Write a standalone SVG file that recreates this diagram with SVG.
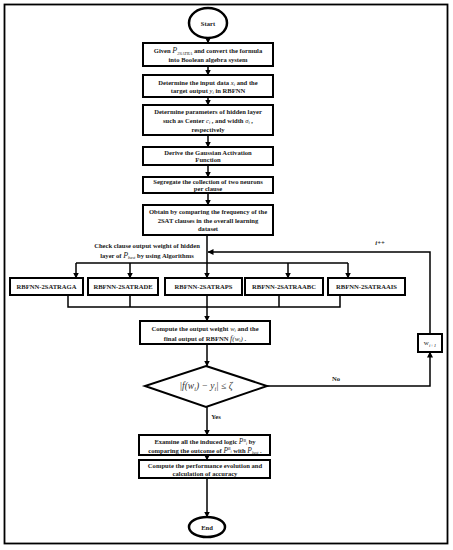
<svg xmlns="http://www.w3.org/2000/svg" width="453" height="550" viewBox="0 0 453 550">
<defs>
<marker id="ah" markerWidth="6" markerHeight="6" refX="5.5" refY="3" orient="auto" markerUnits="userSpaceOnUse">
<path d="M0,0 L6,3 L0,6 z" fill="#000"/>
</marker>
</defs>
<style>
.box{fill:#fff;stroke:#000;stroke-width:2}
.term{fill:#fff;stroke:#000;stroke-width:2.5}
.t{font-family:"Liberation Serif",serif;font-weight:bold;font-size:6.6px;fill:#1a1a1a;text-anchor:middle}
.m{font-family:"Liberation Serif",serif;font-style:italic;font-weight:normal}
.s{font-size:4.5px}
.c{fill:none;stroke:#000;stroke-width:1.5}
.ca{fill:none;stroke:#000;stroke-width:1.5;marker-end:url(#ah)}
</style>
<rect x="4.5" y="4.5" width="443" height="539" fill="#fff" stroke="#000" stroke-width="1.8"/>
<g id="connectors">
<line class="ca" x1="208" y1="38" x2="208" y2="43"/>
<line class="ca" x1="208" y1="66" x2="208" y2="75"/>
<line class="ca" x1="208" y1="97" x2="208" y2="105"/>
<line class="ca" x1="208" y1="135" x2="208" y2="147"/>
<line class="ca" x1="208" y1="165" x2="208" y2="177"/>
<line class="ca" x1="208" y1="193" x2="208" y2="205"/>
<line class="ca" x1="207" y1="235" x2="207" y2="278"/>
<line class="c" x1="76" y1="263" x2="348" y2="263"/>
<line class="ca" x1="76" y1="263" x2="76" y2="278"/>
<line class="ca" x1="130" y1="263" x2="130" y2="278"/>
<line class="ca" x1="288" y1="263" x2="288" y2="278"/>
<line class="ca" x1="348" y1="263" x2="348" y2="278"/>
<path class="c" d="M68,295 V307 H340 V295 M130,295 V307 M279,295 V307"/>
<line class="ca" x1="207" y1="295" x2="207" y2="321"/>
<line class="ca" x1="207" y1="344" x2="207" y2="366"/>
<line class="ca" x1="207" y1="407" x2="207" y2="435"/>
<path class="ca" d="M267,386 H430 V352"/>
<path class="ca" d="M430,334 V252 H208"/>
<line class="ca" x1="207" y1="455" x2="207" y2="460"/>
<line class="ca" x1="207" y1="478" x2="207" y2="517"/>
</g>
<g id="start">
<ellipse class="term" cx="208" cy="23" rx="19" ry="15"/>
<text class="t" x="208" y="25.5">Start</text>
</g>
<g id="box1">
<rect class="box" x="143" y="43" width="130" height="23"/>
<text class="t" x="208" y="53">Given <tspan class="m" font-size="8">P</tspan><tspan class="m s" dy="1.5">2SATRA</tspan><tspan dy="-1.5"> and convert the formula</tspan></text>
<text class="t" x="208" y="62">into Boolean algebra system</text>
</g>
<g id="box2">
<rect class="box" x="143" y="75" width="130" height="22"/>
<text class="t" x="208" y="84.5">Determine the input data <tspan class="m">x</tspan><tspan class="m s" dy="1.2">i</tspan><tspan dy="-1.2"> and the</tspan></text>
<text class="t" x="208" y="93">target output <tspan class="m">y</tspan><tspan class="m s" dy="1.2">i</tspan><tspan dy="-1.2"> in RBFNN</tspan></text>
</g>
<g id="box3">
<rect class="box" x="143" y="105" width="130" height="30"/>
<text class="t" x="208" y="114">Determine parameters of hidden layer</text>
<text class="t" x="208" y="123">such as Center <tspan class="m">c</tspan><tspan class="m s" dy="1.2">i</tspan><tspan dy="-1.2"> , and width <tspan class="m">σ</tspan></tspan><tspan class="m s" dy="1.2">i</tspan><tspan dy="-1.2"> ,</tspan></text>
<text class="t" x="208" y="131.5">respectively</text>
</g>
<g id="box4">
<rect class="box" x="143" y="147" width="130" height="18"/>
<text class="t" x="208" y="154.5">Derive the Gaussian Activation</text>
<text class="t" x="208" y="162">Function</text>
</g>
<g id="box5">
<rect class="box" x="143" y="177" width="130" height="16"/>
<text class="t" x="208" y="184">Segregate the collection of two neurons</text>
<text class="t" x="208" y="191">per clause</text>
</g>
<g id="box6">
<rect class="box" x="143" y="205" width="130" height="30"/>
<text class="t" x="208" y="214">Obtain  by comparing the frequency of the</text>
<text class="t" x="208" y="222.5">2SAT clauses in the overall learning</text>
<text class="t" x="208" y="231">dataset</text>
</g>
<g id="check-label">
<text class="t" x="147" y="248">Check clause output weight of hidden</text>
<text class="t" x="147" y="257.5">layer of <tspan class="m" font-size="8">P</tspan><tspan class="m s" dy="1.5">best</tspan><tspan dy="-1.5"> by using Algorithms</tspan></text>
</g>
<g id="ga">
<rect class="box" x="10" y="278" width="73" height="17"/>
<text class="t" x="46.5" y="289">RBFNN-2SATRAGA</text>
</g>
<g id="de">
<rect class="box" x="88" y="278" width="70" height="17"/>
<text class="t" x="123" y="289">RBFNN-2SATRADE</text>
</g>
<g id="ps">
<rect class="box" x="165" y="278" width="77" height="17"/>
<text class="t" x="203.5" y="289">RBFNN-2SATRAPS</text>
</g>
<g id="abc">
<rect class="box" x="245" y="278" width="78" height="17"/>
<text class="t" x="284" y="289">RBFNN-2SATRAABC</text>
</g>
<g id="ais">
<rect class="box" x="328" y="278" width="77" height="17"/>
<text class="t" x="366.5" y="289">RBFNN-2SATRAAIS</text>
</g>
<g id="compute">
<rect class="box" x="140" y="321" width="130" height="23"/>
<text class="t" x="205" y="331">Compute the output weight <tspan class="m">w</tspan><tspan class="m s" dy="1.2">i</tspan><tspan dy="-1.2"> and the</tspan></text>
<text class="t" x="205" y="340.5">final output of RBFNN  <tspan class="m" font-size="8">f</tspan><tspan class="m" font-size="7">(w</tspan><tspan class="m s" dy="1.2">i</tspan><tspan class="m" font-size="7" dy="-1.2">)</tspan> .</text>
</g>
<g id="decision">
<polygon points="206,366 267,386 206,407 145,386" fill="#fff" stroke="#000" stroke-width="2"/>
<text x="206" y="389" font-family="Liberation Serif, serif" font-size="9.5" font-style="italic" text-anchor="middle" fill="#333">|f(w<tspan font-size="6" dy="2">i</tspan><tspan dy="-2">) − y</tspan><tspan font-size="6" dy="2">i</tspan><tspan dy="-2">| ≤ ζ</tspan></text>
</g>
<g id="labels">
<text class="t" x="336" y="381">No</text>
<text class="t" x="216" y="419">Yes</text>
<text class="t" x="380" y="245" font-style="italic">i++</text>
</g>
<g id="w-next">
<rect class="box" x="418" y="334" width="24" height="18"/>
<text x="430" y="345" font-family="Liberation Serif, serif" font-size="7" text-anchor="middle" fill="#222">w<tspan font-size="5" font-style="italic" dy="1.5">i+1</tspan></text>
</g>
<g id="examine">
<rect class="box" x="139" y="435" width="131" height="20"/>
<text class="t" x="205" y="444">Examine all the induced logic <tspan class="m" font-size="7.5">P</tspan><tspan class="m" font-size="4" dy="-2.2">B</tspan><tspan class="m" font-size="4" dy="3">i</tspan><tspan dy="-0.8"> by</tspan></text>
<text class="t" x="205" y="452.5">comparing the outcome of <tspan class="m" font-size="7.5">P</tspan><tspan class="m" font-size="4" dy="-2.2">B</tspan><tspan class="m" font-size="4" dy="3">i</tspan><tspan dy="-0.8"> with </tspan><tspan class="m" font-size="7.5">P</tspan><tspan class="m" font-size="4" dy="1.2">best</tspan><tspan dy="-1.2"> .</tspan></text>
</g>
<g id="performance">
<rect class="box" x="139" y="460" width="131" height="18"/>
<text class="t" x="205" y="467.5">Compute the performance evolution and</text>
<text class="t" x="205" y="475.5">calculation of accuracy</text>
</g>
<g id="end">
<ellipse class="term" cx="207" cy="527" rx="18" ry="10"/>
<text class="t" x="207" y="529.5">End</text>
</g>
</svg>
